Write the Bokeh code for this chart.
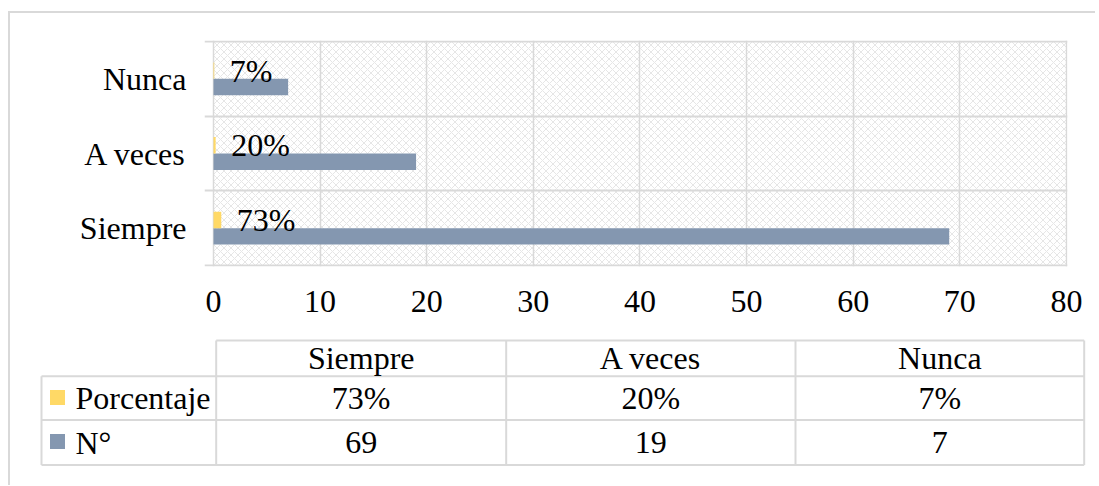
from bokeh.plotting import figure
from bokeh.models import Range1d, FactorRange, FixedTicker, ColumnDataSource
from bokeh.transform import dodge
from bokeh.layouts import column
from bokeh.core.properties import value
from bokeh.embed import file_html
from bokeh.resources import INLINE

# ---------------- data ----------------
categories = ["Siempre", "A veces", "Nunca"]
porcentaje = [0.73, 0.20, 0.07]
n_values = [69, 19, 7]
series_names = ["Porcentaje", "N°"]
x_ticks = [0, 10, 20, 30, 40, 50, 60, 70, 80]

# ---------------- style ----------------
YELLOW = "#FFD966"
SLATE = "#8497B0"
GRID = "#D9D9D9"
FONT = "Liberation Serif"
FS = "32px"
TXT = "#000000"

pct_labels = [f"{round(v * 100)}%" for v in porcentaje]
n_labels = [str(v) for v in n_values]

src = ColumnDataSource(dict(cat=categories, pct=porcentaje, n=n_values, lab=pct_labels))

# ---------------- chart ----------------
p1 = figure(width=1085, height=317,
            y_range=FactorRange(factors=categories, range_padding=0.009),
            x_range=Range1d(-0.844, 80.094),
            output_backend="svg", toolbar_location=None,
            min_border_left=194, min_border_right=28,
            min_border_top=27, min_border_bottom=64)
p1.outline_line_color = None
p1.background_fill_color = "white"
p1.border_fill_color = "white"

# patterned plot area
p1.quad(left=0, right=80, bottom=0, top=3, fill_color="white",
        hatch_pattern="x", hatch_color="#E6E6E6", hatch_scale=7, hatch_weight=1,
        line_color=None, level="image")

p1.xaxis.ticker = FixedTicker(ticks=x_ticks)
p1.xgrid.grid_line_color = GRID
p1.xgrid.grid_line_width = 1.5
p1.ygrid.visible = False
p1.hspan(y=[0, 1, 2, 3], line_color=GRID, line_width=2)

for ax in (p1.xaxis[0], p1.yaxis[0]):
    ax.axis_line_color = None
    ax.major_tick_line_color = None
    ax.minor_tick_line_color = None
    ax.major_label_text_font = FONT
    ax.major_label_text_font_size = FS
    ax.major_label_text_color = TXT
    ax.major_label_standoff = 18
p1.yaxis[0].major_label_standoff = 12

p1.hbar(y=dodge("cat", -0.11, range=p1.y_range), left=0, right="n", height=0.22,
        fill_color=SLATE, line_color=None, source=src)
p1.hbar(y=dodge("cat", 0.11, range=p1.y_range), left=0, right="pct", height=0.22,
        fill_color=YELLOW, line_color=None, source=src)
p1.text(x="pct", y=dodge("cat", 0.11, range=p1.y_range), text="lab", x_offset=15.5,
        text_align="left", text_baseline="middle", text_font=value(FONT),
        text_font_size=value(FS), text_color=TXT, source=src)

# ---------------- data table ----------------
p2 = figure(width=1085, height=155, x_range=Range1d(10, 1095), y_range=Range1d(485, 330),
            output_backend="svg", toolbar_location=None, min_border=0)
p2.axis.visible = False
p2.xgrid.visible = False
p2.ygrid.visible = False
p2.outline_line_color = None
p2.background_fill_color = "white"
p2.border_fill_color = "white"

for fig in (p1, p2):
    try:
        fig.frame_align = False
    except Exception:
        pass

col_edges = [215.7, 505.7, 795.0, 1083.7]
legend_left = 41.0
row_edges = [340.0, 375.7, 419.5, 464.5]
col_centers = [(col_edges[i] + col_edges[i + 1]) / 2 for i in range(3)]
row_centers = [(row_edges[i] + row_edges[i + 1]) / 2 for i in range(3)]

hx0 = [col_edges[0]] + [legend_left] * 3
hx1 = [col_edges[-1]] * 4
p2.segment(x0=hx0, x1=hx1, y0=row_edges, y1=row_edges, line_color=GRID, line_width=2)
vx = [legend_left] + col_edges
vy0 = [row_edges[1]] + [row_edges[0]] * 4
vy1 = [row_edges[-1]] * 5
p2.segment(x0=vx, x1=vx, y0=vy0, y1=vy1, line_color=GRID, line_width=2)

tkw = dict(text_align="center", text_baseline="middle", text_font=value(FONT),
           text_font_size=value(FS), text_color=TXT)
p2.text(x=col_centers, y=[row_centers[0]] * 3, text=categories, **tkw)
p2.text(x=col_centers, y=[row_centers[1]] * 3, text=pct_labels, **tkw)
p2.text(x=col_centers, y=[row_centers[2]] * 3, text=n_labels, **tkw)

p2.rect(x=[57, 57], y=[397, 441], width=15, height=15,
        fill_color=[YELLOW, SLATE], line_color=None)
p2.text(x=[75, 75], y=[row_centers[1], row_centers[2]], text=series_names,
        text_align="left", text_baseline="middle", text_font=value(FONT),
        text_font_size=value(FS), text_color=TXT)

layout = column(p1, p2, styles={"border-top": "2px solid #D9D9D9",
                                "border-left": "2px solid #D9D9D9",
                                "margin-top": "11px",
                                "margin-left": "8px"})

open("out.html", "w").write(file_html(layout, INLINE))
